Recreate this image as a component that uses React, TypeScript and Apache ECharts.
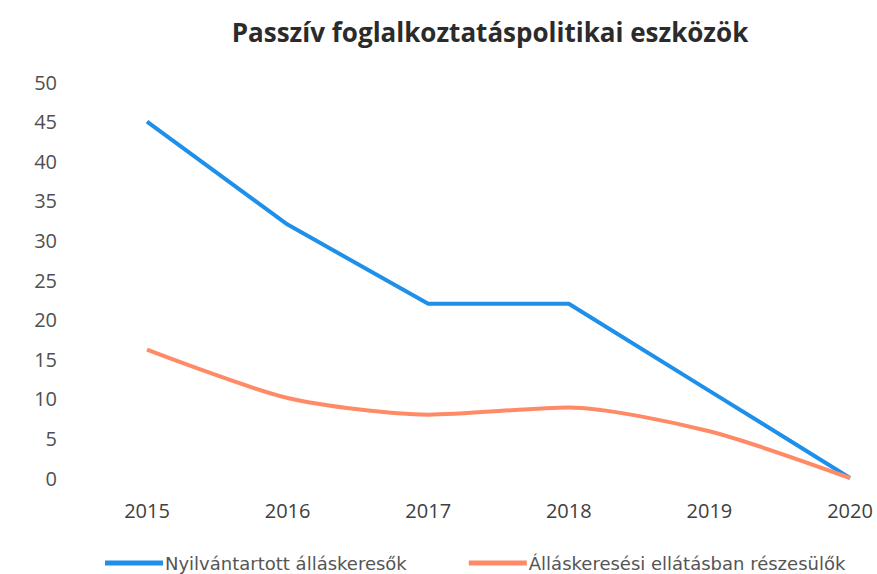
import React, { useEffect, useRef } from "react";
import * as echarts from "echarts";

const years = ["2015", "2016", "2017", "2018", "2019", "2020"];
const registered = [45, 32, 22, 22, 11, 0];
const benefits = [16.2, 10.1, 8, 8.9, 5.9, 0];
const seriesNames = ["Nyilvántartott álláskeresők", "Álláskeresési ellátásban részesülők"];
const titleText = "Passzív foglalkoztatáspolitikai eszközök";

export default function App() {
  const ref = useRef<HTMLDivElement>(null);
  useEffect(() => {
    if (!ref.current) return;
    const chart = echarts.init(ref.current, undefined, { renderer: "svg" });
    chart.setOption({
      animation: false,
      backgroundColor: "#ffffff",
      title: {
        text: titleText,
        left: 485,
        textAlign: "center",
        top: 14,
        textStyle: { fontFamily: "Open Sans", fontWeight: "bold", fontSize: 26, color: "#2b2b2b" },
      },
      legend: {
        left: 100,
        top: 549,
        itemWidth: 58,
        itemHeight: 5,
        itemGap: 62,
        icon: "rect",
        textStyle: { fontFamily: "DejaVu Sans", fontSize: 18, lineHeight: 18, color: "#555555", padding: [0, 0, 0, -3] },
        data: seriesNames,
      },
      grid: { left: 147, right: 27, top: 82, bottom: 96 },
      xAxis: {
        type: "category",
        data: years,
        boundaryGap: false,
        axisLine: { show: false },
        axisTick: { show: false },
        axisLabel: { margin: 22, fontFamily: "Open Sans", fontSize: 20, color: "#404040" },
      },
      yAxis: {
        type: "value",
        min: 0,
        max: 50,
        interval: 5,
        splitLine: { show: false },
        axisLine: { show: false },
        axisTick: { show: false },
        axisLabel: { margin: 90, fontFamily: "Open Sans", fontSize: 20, color: "#505050" },
      },
      series: [
        {
          name: seriesNames[0],
          type: "line",
          data: registered,
          symbol: "none",
          lineStyle: { width: 4, color: "#1e90ea" },
          itemStyle: { color: "#1e90ea" },
        },
        {
          name: seriesNames[1],
          type: "line",
          data: benefits,
          symbol: "none",
          smooth: 0.25,
          lineStyle: { width: 4, color: "#ff8a66" },
          itemStyle: { color: "#ff8a66" },
        },
      ],
    });
    return () => chart.dispose();
  }, []);
  return <div ref={ref} style={{ width: 877, height: 574, position: "absolute", left: 0, top: 0 }} />;
}
